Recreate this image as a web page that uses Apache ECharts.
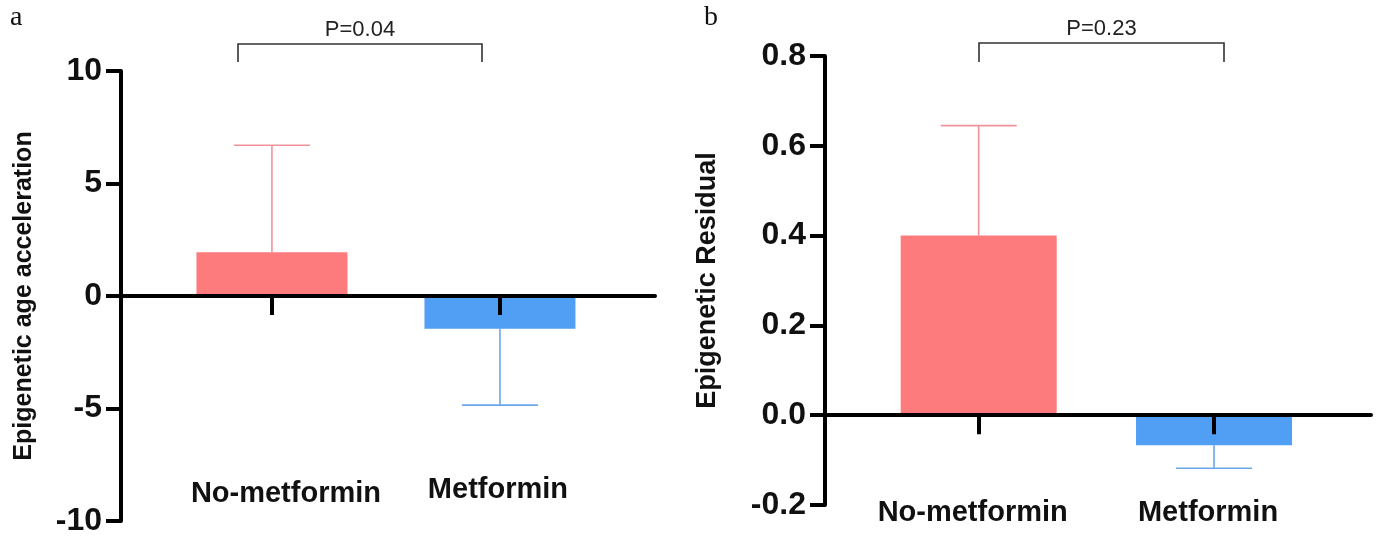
<!DOCTYPE html>
<html>
<head>
<meta charset="utf-8">
<script src="https://cdn.jsdelivr.net/npm/echarts@6/dist/echarts.min.js"></script>
<style>
  html, body { margin: 0; padding: 0; background: #fff; }
  #chart { width: 1381px; height: 541px; }
</style>
</head>
<body>
<div id="chart"></div>
<script>
const groups = ['No-metformin', 'Metformin']
const barColors = ['#fd7b7c', '#519ef5']
const errColors = ['#f0939a', '#6aa7ea']

// a: epigenetic age acceleration (mean, one-sided error)
const ageAccelMean = [1.95, -1.45]
const ageAccelErr = [4.75, 3.4]
const ageAccelTicks = [-10, -5, 0, 5, 10]
const pValueA = 'P=0.04'

// b: epigenetic residual
const residualMean = [0.4, -0.067]
const residualErr = [0.245, 0.051]
const residualTicks = [-0.2, 0, 0.2, 0.4, 0.6, 0.8]
const pValueB = 'P=0.23'

const chart = echarts.init(document.getElementById('chart'))
const sans = '"Liberation Sans", Arial, sans-serif'

function xAxisFor(idx, min, max) {
  return {
    type: 'value', gridIndex: idx, min: min, max: max, z: 5,
    axisLine: { onZero: true, lineStyle: { color: '#000', width: 4 } },
    axisTick: { show: true, customValues: [1, 2], length: 19, lineStyle: { color: '#000', width: 4 } },
    axisLabel: { show: false },
    splitLine: { show: false }
  }
}

function yAxisFor(idx, ticks, name, nameSize, nameGap, digits) {
  return {
    type: 'value', gridIndex: idx, z: 5,
    min: ticks[0], max: ticks[ticks.length - 1], interval: ticks[1] - ticks[0],
    name: name, nameLocation: 'middle', nameRotate: 90, nameGap: nameGap,
    nameTextStyle: { color: '#111', fontFamily: sans, fontWeight: 'bold', fontSize: nameSize },
    axisLine: { show: true, onZero: false, lineStyle: { color: '#000', width: 4 } },
    axisTick: { show: true, length: 15, lineStyle: { color: '#000', width: 4 } },
    axisLabel: {
      margin: 19, color: '#111', fontFamily: sans, fontWeight: 'bold', fontSize: 32,
      formatter: v => v.toFixed(digits)
    },
    splitLine: { show: false }
  }
}

function barSeries(idx, mean, width) {
  return {
    type: 'bar', xAxisIndex: idx, yAxisIndex: idx, barWidth: width, z: 2,
    data: mean.map((m, i) => ({ value: [i + 1, m], itemStyle: { color: barColors[i] } }))
  }
}

function errorSeries(idx, mean, err) {
  return {
    type: 'custom', xAxisIndex: idx, yAxisIndex: idx, z: 3,
    data: mean.map((m, i) => [i + 1, m, m >= 0 ? m + err[i] : m - err[i]]),
    renderItem: (params, api) => {
      const from = api.coord([api.value(0), api.value(1)])
      const to = api.coord([api.value(0), api.value(2)])
      const style = { stroke: errColors[params.dataIndex], lineWidth: 1.6 }
      return {
        type: 'group',
        children: [
          { type: 'line', shape: { x1: from[0], y1: from[1], x2: to[0], y2: to[1] }, style: style },
          { type: 'line', shape: { x1: to[0] - 38, y1: to[1], x2: to[0] + 38, y2: to[1] }, style: style }
        ]
      }
    }
  }
}

// group names sit well below the zero line, under each bar
function groupLabelSeries(idx, dx, dy) {
  return {
    type: 'custom', xAxisIndex: idx, yAxisIndex: idx, z: 6, clip: false, silent: true,
    data: groups.map((g, i) => [i + 1, 0]),
    renderItem: (params, api) => {
      const p = api.coord([api.value(0), api.value(1)])
      return {
        type: 'text', x: p[0] + dx[params.dataIndex], y: p[1] + dy[params.dataIndex],
        style: {
          text: groups[params.dataIndex], fill: '#111', align: 'center', verticalAlign: 'middle',
          font: 'bold 29px ' + sans
        }
      }
    }
  }
}

function bracket(x1, x2, y, drop, label) {
  return [
    { type: 'polyline', z: 10, shape: { points: [[x1, y + drop], [x1, y], [x2, y], [x2, y + drop]] },
      style: { stroke: '#333', lineWidth: 1.6, fill: null } },
    { type: 'text', z: 10, x: (x1 + x2) / 2, y: y - 14,
      style: { text: label, fill: '#222', font: '22px ' + sans, align: 'center', verticalAlign: 'middle' } }
  ]
}

const option = {
  animation: false,
  backgroundColor: '#fff',
  grid: [
    { left: 121, top: 71, width: 534, height: 450, outerBoundsMode: 'none' },
    { left: 825, top: 56, width: 546, height: 449, outerBoundsMode: 'none' }
  ],
  xAxis: [xAxisFor(0, 0.338, 2.68), xAxisFor(1, 0.347, 2.667)],
  yAxis: [
    yAxisFor(0, ageAccelTicks, 'Epigenetic age acceleration', 25, 84, 0),
    yAxisFor(1, residualTicks, 'Epigenetic Residual', 27, 104, 1)
  ],
  series: [
    barSeries(0, ageAccelMean, 151),
    errorSeries(0, ageAccelMean, ageAccelErr),
    groupLabelSeries(0, [14, -2], [198, 194]),
    barSeries(1, residualMean, 156),
    errorSeries(1, residualMean, residualErr),
    groupLabelSeries(1, [-6, -6], [98, 98])
  ],
  graphic: [
    { type: 'text', x: 10, y: 4, style: { text: 'a', fill: '#111', font: '28px "Liberation Serif", "Times New Roman", serif' } },
    { type: 'text', x: 704, y: 4, style: { text: 'b', fill: '#111', font: '28px "Liberation Serif", "Times New Roman", serif' } },
    ...bracket(238, 482, 44, 18, pValueA),
    ...bracket(979, 1224, 43, 19, pValueB)
  ]
}

chart.setOption(option)
</script>
</body>
</html>
